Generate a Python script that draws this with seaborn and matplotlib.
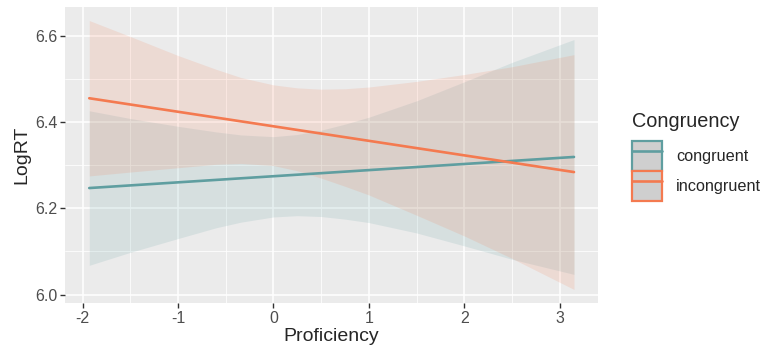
import numpy as np
import pandas as pd
import matplotlib
matplotlib.use("Agg")
import matplotlib.pyplot as plt
import seaborn as sns
from matplotlib.patches import Patch
from matplotlib.lines import Line2D
from matplotlib.ticker import MultipleLocator

# fitted lines (endpoints of the observed proficiency range)
prof_range = [-1.93, 3.15]
congruent_fit = [6.247, 6.319]
incongruent_fit = [6.455, 6.284]

# confidence bands
band_x = [-1.93, -1.5, -1.0, -0.6, -0.34, 0.0, 0.25, 0.5, 0.75, 1.0, 1.5, 2.0, 2.5, 3.15]
congruent_upper = [6.426, 6.408, 6.390, 6.377, 6.370, 6.366, 6.371, 6.381, 6.395, 6.411, 6.449, 6.493, 6.538, 6.591]
congruent_lower = [6.068, 6.098, 6.130, 6.155, 6.168, 6.180, 6.183, 6.181, 6.175, 6.167, 6.143, 6.113, 6.082, 6.047]
incongruent_upper = [6.635, 6.598, 6.554, 6.522, 6.503, 6.486, 6.479, 6.476, 6.477, 6.481, 6.494, 6.510, 6.528, 6.556]
incongruent_lower = [6.275, 6.284, 6.294, 6.302, 6.304, 6.299, 6.287, 6.270, 6.251, 6.231, 6.184, 6.136, 6.084, 6.012]

groups = ["congruent", "incongruent"]
colors = {"congruent": "#5F9EA0", "incongruent": "#F47A50"}

sns.set_theme(style="darkgrid", rc={
    "axes.facecolor": "#EBEBEB",
    "grid.color": "white",
    "axes.edgecolor": "#EBEBEB",
})
plt.rcParams["font.family"] = ["Liberation Sans", "DejaVu Sans"]
plt.rcParams["axes.unicode_minus"] = False

df = pd.DataFrame({
    "Proficiency": prof_range + prof_range,
    "LogRT": congruent_fit + incongruent_fit,
    "Congruency": ["congruent"] * 2 + ["incongruent"] * 2,
})

fig = plt.figure(figsize=(7.65, 3.58), dpi=100)
ax = fig.add_axes([0.085, 0.154, 0.697, 0.826])

bands = {
    "congruent": (congruent_lower, congruent_upper),
    "incongruent": (incongruent_lower, incongruent_upper),
}
for g in groups:
    lo, hi = bands[g]
    ax.fill_between(band_x, lo, hi, color=colors[g], alpha=0.15, linewidth=0, zorder=2)

sns.lineplot(data=df, x="Proficiency", y="LogRT", hue="Congruency", palette=colors,
             linewidth=1.9, legend=False, ax=ax, zorder=3)

ax.set_xlim(-2.184, 3.404)
ax.set_ylim(5.981, 6.666)
ax.xaxis.set_major_locator(MultipleLocator(1))
ax.xaxis.set_minor_locator(MultipleLocator(0.5))
ax.yaxis.set_major_locator(MultipleLocator(0.2))
ax.yaxis.set_minor_locator(MultipleLocator(0.1))
ax.set_yticks(ax.get_yticks())
ax.set_yticklabels([f"{v:.1f}" for v in ax.get_yticks()])
ax.set_ylim(5.981, 6.666)
ax.grid(which="major", color="white", linewidth=1.1)
ax.grid(which="minor", color="white", linewidth=0.55)
ax.tick_params(which="major", length=3.5, width=1.0, color="#333333",
               labelsize=11.5, labelcolor="#4D4D4D", pad=2, bottom=True, left=True)
ax.tick_params(which="minor", length=0)
for s in ax.spines.values():
    s.set_visible(False)
ax.set_xlabel("Proficiency", fontsize=14, labelpad=2)
ax.set_ylabel("LogRT", fontsize=14, labelpad=3)

handles = []
for g in groups:
    box = Patch(facecolor="#CFCFCF", edgecolor=colors[g], linewidth=1.6)
    ln = Line2D([], [], color=colors[g], linewidth=1.9)
    handles.append((box, ln))
leg = fig.legend(handles, groups, title="Congruency", loc="upper left",
                 bbox_to_anchor=(0.817, 0.704), frameon=False, fontsize=11.7,
                 title_fontsize=14.3, handlelength=1.9, handleheight=2.46,
                 labelspacing=0.0, handletextpad=0.86, alignment="left", borderaxespad=0)
leg._legend_box.sep = 7

fig.savefig("out.png", dpi=100)
